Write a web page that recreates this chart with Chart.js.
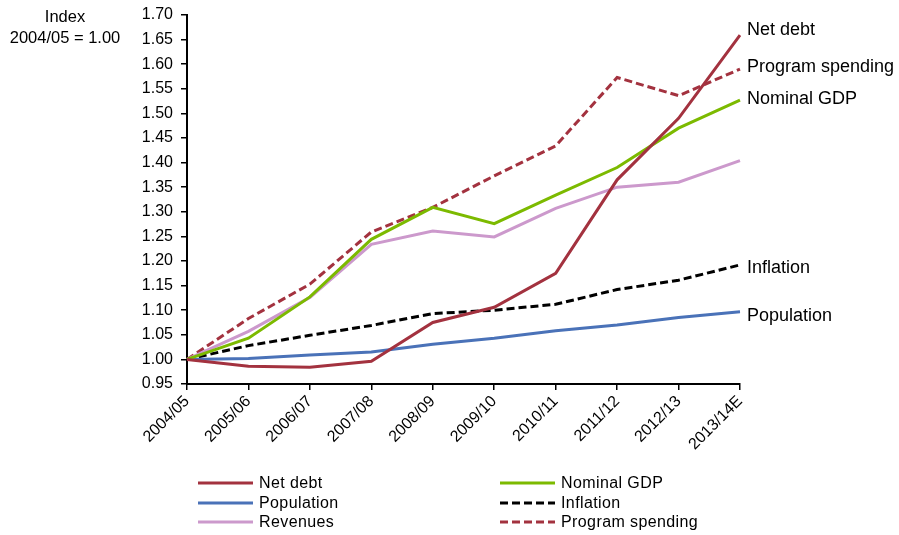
<!DOCTYPE html>
<html>
<head>
<meta charset="utf-8">
<script src="https://cdn.jsdelivr.net/npm/chart.js@4/dist/chart.umd.min.js"></script>
<style>
html,body{margin:0;padding:0;background:#fff;}
#wrap{width:899px;height:535px;}
</style>
</head>
<body>
<div id="wrap"><canvas id="c" width="899" height="535"></canvas></div>
<script>
const categories = ["2004/05","2005/06","2006/07","2007/08","2008/09","2009/10","2010/11","2011/12","2012/13","2013/14E"];
const netDebt        = [1.000, 0.986, 0.984, 0.996, 1.075, 1.106, 1.175, 1.365, 1.490, 1.659];
const nominalGDP     = [1.000, 1.043, 1.127, 1.244, 1.309, 1.276, 1.334, 1.390, 1.470, 1.527];
const population     = [1.000, 1.002, 1.009, 1.015, 1.031, 1.043, 1.058, 1.070, 1.085, 1.097];
const inflation      = [1.000, 1.028, 1.049, 1.069, 1.093, 1.100, 1.112, 1.142, 1.161, 1.192];
const revenues       = [1.000, 1.057, 1.126, 1.234, 1.261, 1.249, 1.307, 1.350, 1.360, 1.404];
const programSpending= [1.000, 1.083, 1.153, 1.259, 1.309, 1.373, 1.434, 1.573, 1.536, 1.590];
const yTicks = [0.95,1.00,1.05,1.10,1.15,1.20,1.25,1.30,1.35,1.40,1.45,1.50,1.55,1.60,1.65,1.70];
const axisTitle = ["Index", "2004/05 = 1.00"];

const FONT = "'Liberation Sans', Arial, sans-serif";
const RED = "#A3323F", GREEN = "#7CBA00", BLUE = "#4A72B8", PINK = "#CC99CC", BLACK = "#000000";

function ds(label, data, color, dashed, endLabel, endOffset, legendCol, legendRow){
  return {label, data, borderColor: color, backgroundColor: color, borderWidth: 3,
    borderDash: dashed ? [8,4] : [], pointRadius: 0, fill: false, tension: 0,
    endLabel, endOffset, legendCol, legendRow};
}

const datasets = [
  ds("Net debt", netDebt, RED, false, true, -5, 0, 0),
  ds("Nominal GDP", nominalGDP, GREEN, false, true, -1, 1, 0),
  ds("Population", population, BLUE, false, true, 4, 0, 1),
  ds("Inflation", inflation, BLACK, true, true, 3, 1, 1),
  ds("Revenues", revenues, PINK, false, false, 0, 0, 2),
  ds("Program spending", programSpending, RED, true, true, -2, 1, 2)
];

const annot = {
  id: 'annot',
  afterDraw(chart){
    const ctx = chart.ctx;
    ctx.save();
    // axis title
    ctx.fillStyle = '#000';
    ctx.font = "16.5px " + FONT;
    ctx.textAlign = 'center';
    ctx.textBaseline = 'middle';
    ctx.fillText(axisTitle[0], 65, 17);
    ctx.fillText(axisTitle[1], 65, 38);
    // end labels
    ctx.font = "18px " + FONT;
    ctx.textAlign = 'left';
    chart.data.datasets.forEach((d, i) => {
      if (!d.endLabel) return;
      const meta = chart.getDatasetMeta(i);
      const pt = meta.data[meta.data.length - 1];
      ctx.fillText(d.label, pt.x + 7, pt.y + d.endOffset);
    });
    // legend
    ctx.font = "16px " + FONT;
    try { ctx.letterSpacing = "0.4px"; } catch(e) {}
    const colX = [198, 500], rowY = [483, 503, 522];
    chart.data.datasets.forEach(d => {
      const x = colX[d.legendCol], y = rowY[d.legendRow];
      ctx.strokeStyle = d.borderColor;
      ctx.lineWidth = 3;
      ctx.setLineDash(d.borderDash);
      ctx.beginPath();
      ctx.moveTo(x, y); ctx.lineTo(x + 55, y);
      ctx.stroke();
      ctx.setLineDash([]);
      ctx.fillStyle = '#000';
      ctx.fillText(d.label, x + 61, y + 1);
    });
    ctx.restore();
  }
};

new Chart(document.getElementById('c'), {
  type: 'line',
  data: { labels: categories, datasets },
  options: {
    responsive: false,
    animation: false,
    devicePixelRatio: 1,
    layout: { padding: { left: 0, right: 159, top: 15, bottom: 0 } },
    plugins: { legend: { display: false }, tooltip: { enabled: false } },
    scales: {
      x: {
        offset: false,
        grid: { display: true, drawOnChartArea: false, drawTicks: true, tickLength: 6, color: '#000', lineWidth: 1.5 },
        border: { display: true, color: '#000', width: 2 },
        ticks: { color: '#000', font: { family: FONT, size: 16 }, maxRotation: 45, minRotation: 45, autoSkip: false, padding: 2 },
        afterFit(s){ s.height = 151; s.paddingLeft = 0; s.paddingRight = 0; }
      },
      y: {
        min: 0.95, max: 1.70,
        afterBuildTicks(s){ s.ticks = yTicks.map(v => ({value: v})); },
        grid: { display: true, drawOnChartArea: false, drawTicks: true, tickLength: 6, color: '#000', lineWidth: 1.5 },
        border: { display: true, color: '#000', width: 2 },
        ticks: { color: '#000', font: { family: FONT, size: 16 }, padding: 8, callback: v => Number(v).toFixed(2) },
        afterFit(s){ s.width = 187; s.paddingTop = 0; s.paddingBottom = 0; }
      }
    }
  },
  plugins: [annot]
});
</script>
</body>
</html>
